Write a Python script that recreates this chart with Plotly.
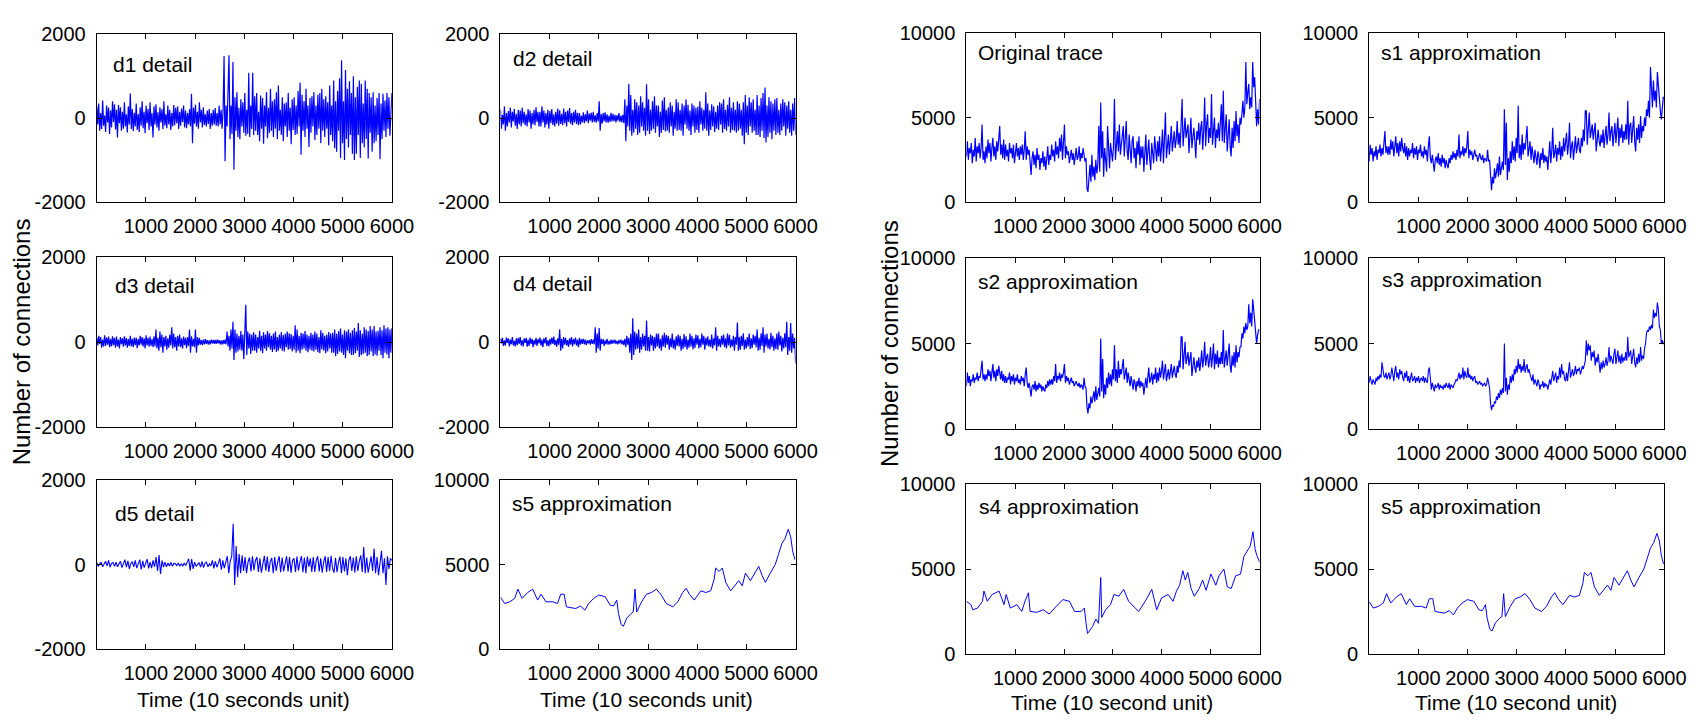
import numpy as np
import plotly.graph_objects as go
from plotly.subplots import make_subplots

W, H = 1708, 725
BLUE = "#0000ff"
FONT = "Liberation Sans, Arial, sans-serif"

# ---- wavelet details (uniformly sampled over 1..6000) ----
d1_detail = [
    280, -150, 350, -300, 120, -260, 420, -180, 60, -330, 300, -100, 250, -380, 180, -220, 400, -90, 330, -270,
    200, -460, 310, -120, 260, -300, 150, -250, 380, -200, 90, -340, 280, -150, 590, -260, 220, -310, 130, -200,
    350, -280, 100, -330, 260, -180, 400, -240, 150, -360, 300, -120, 220, -280, 380, -200, 120, -460, 280, -150,
    330, -220, 140, -300, 260, -100, 210, -260, 400, -180, 90, -240, 300, -150, 200, -280, 120, -200, 310, -170,
    250, -120, 280, -260, 150, -180, 230, -90, 300, -220, 180, -240, 120, -150, 210, -200, 580, -600, 250, -130,
    320, -200, 150, -250, 380, -100, 200, -220, 260, -160, 90, -200, 180, -140, 220, -260, 120, -180, 200, -150,
    240, -180, 120, -200, 300, -150, 200, -250, 180, 1480, -1030, 300, -200, 450, 1500, -500, 300, -380, 1340, -1230,
    500, -300, 620, -450, 250, -500, 450, -200, 380, -350, 600, -420, 200, -380, 1080, -450, 300, -260, 1080, -400,
    520, -300, 600, -400, 150, -550, 540, -250, 480, -610, 300, -200, 620, -480, 250, -350, 700, -300, 400, -450,
    450, -250, 620, -500, 780, -300, 200, -400, 500, -550, 350, -200, 380, -450, 600, -300, 250, -620, 450, -280,
    500, -400, 300, -380, 650, -200, 850, -870, 560, -300, 400, -450, 700, -250, 300, -690, 480, -350, 520, -200,
    620, -520, 300, -400, 560, -250, 600, -600, 700, -300, 450, -450, 520, -250, 380, -650, 780, -400, 300, -550,
    900, -720, 400, -800, 650, -300, 950, -950, 1380, -600, 400, -1000, 1150, -500, 700, -700, 880, -400, 600, -850,
    1000, -1000, 500, -850, 750, -400, 900, -950, 820, -600, 350, -700, 900, -500, 700, -960, 600, -350, 500, -800,
    620, -600, 300, -550, 480, -400, 600, -980, 350, -500, 580, -300, 420, -450, 600, -250, 500, -420, 350, 600,
]

d2_detail = [
    200, -250, 80, -150, 280, -300, 120, -200, 170, -100, 250, -220, 150, -80, 220, -180, 100, -260, 200, -150,
    180, -200, 250, -120, 150, -170, 90, -200, 220, -100, 180, -250, 120, -150, 200, -170, 260, -90, 150, -200,
    150, -200, 280, -100, 180, -220, 120, -150, 200, -250, 170, -120, 220, -160, 90, -200, 150, -130, 230, -180,
    190, -140, 100, -170, 230, -120, 150, -200, 180, -90, 240, -130, 120, -170, 150, -100, 200, -140, 130, -170,
    120, -150, 60, -100, 140, -120, 90, -80, 180, -120, 110, -60, 130, -100, 150, -90, 70, -110, 120, -80,
    400, -300, 100, -130, 120, -80, 140, -100, 90, -110, 60, -90, 130, -80, 100, -70, 80, -100, 70, -60,
    120, -90, 60, -100, 80, -120, 450, -550, 300, -200, 820, -300, 550, -420, 200, -350, 450, -250, 380, -400,
    300, -350, 520, -200, 380, -300, 250, -420, 810, -300, 450, -380, 200, -300, 400, -250, 520, -350, 300, -200,
    300, -450, 150, -350, 420, -280, 500, -320, 200, -300, 260, -350, 380, -200, 300, -420, 150, -250, 450, -300,
    380, -280, 200, -300, 350, -420, 300, -150, 450, -250, 320, -300, 180, -400, 350, -200, 300, -350, 250, -280,
    280, -350, 400, -150, 250, -300, 200, -250, 620, -300, 350, -420, 180, -280, 330, -200, 280, -330, 150, -250,
    300, -280, 380, -150, 350, -350, 450, -260, 200, -300, 320, -200, 500, -350, 250, -280, 380, -300, 200, -350,
    400, -300, 350, -250, 200, -420, 380, -620, 550, -350, 300, -400, 500, -200, 380, -350, 450, -300, 200, -400,
    550, -400, 300, -450, 480, -300, 600, -480, 730, -580, 300, -450, 500, -350, 400, -500, 350, -300, 450, -400,
    480, -350, 200, -400, 350, -300, 450, -200, 380, -420, 300, -250, 400, -350, 200, -420, 350, -300, 480, -400,
]

d3_detail = [
    100, -80, 150, -40, 120, -130, 60, -100, 160, -90, 110, -60, 130, -120, 80, -100, 140, -70, 100, -130,
    130, -100, 60, -150, 120, -50, 90, -110, 140, -80, 100, -130, 70, -90, 150, -100, 80, -120, 110, -70,
    110, -140, 70, -80, 150, -60, 120, -100, 90, -150, 160, -80, 100, -110, 130, -90, 70, -120, 140, -100,
    300, -150, 100, -200, 250, -120, 180, -250, 120, -100, 150, -180, 90, -130, 180, -80, 350, -150, 200, -120,
    120, -200, 150, -100, 180, -120, 90, -150, 130, -70, 100, -140, 120, -90, 300, -250, 140, -100, 80, -120,
    300, -250, 120, -80, 100, -60, 50, -70, 60, -50, 70, -40, 50, -60, 40, -50, 60, -30, 50, -40,
    50, -40, 60, -30, 50, -50, 40, -60, 50, -40, 60, -50, 250, -100, 150, -200, 300, -150, 480, -420,
    300, -250, 200, -220, 150, -180, 260, -200, 180, -400, 220, 880, -300, 250, -150, 200, -280, 180, -200, 230,
    -200, 180, -250, 120, -150, 270, -200, 150, -260, 230, -150, 180, -200, 260, -120, 210, -180, 150, -230, 200,
    -170, 250, -230, 120, -200, 180, -150, 240, -200, 170, -220, 200, -120, 250, -180, 210, -160, 190, -220, 150,
    -180, 400, -250, 300, -200, 150, -260, 220, -180, 200, -150, 260, -200, 180, -240, 150, -170, 220, -200, 180,
    -220, 250, -180, 200, -240, 120, -260, 280, -170, 220, -200, 150, -260, 180, -220, 240, -150, 200, -250, 220,
    -250, 300, -330, 200, -280, 260, -220, 320, -250, 180, -300, 280, -380, 250, -200, 300, -260, 220, -300, 280,
    -300, 330, -260, 250, -200, 450, -350, 280, -310, 200, -280, 350, -250, 300, -330, 260, -300, 380, -220, 300,
    -330, 380, -290, 250, -320, 270, -200, 350, -300, 280, -380, 400, -250, 320, -290, 350, -380, 300, -250, 330,
]

d4_detail = [
    80, -30, 100, -90, 40, -80, 110, -20, 90, -100, 60, -50, 120, -80, 30, -100, 90, -70, 100, -40,
    120, -80, 40, -100, 90, -20, 100, -110, 60, -90, 110, -40, 80, -120, 50, -60, 100, -90, 70, -30,
    110, -80, 60, -120, 90, -30, 120, -90, 40, -100, 80, -60, 110, -40, 130, -70, 50, -110, 90, -60,
    300, -200, 80, -150, 120, -60, 100, -80, 50, -110, 90, -60, 120, -100, 70, -50, 110, -80, 60, -120,
    100, -60, 70, -40, 80, -50, 60, -70, 40, -30, 50, -60, 70, -40, 60, -50, 350, -250, 200, -150,
    330, -200, 80, -40, 70, -90, 40, -50, 80, -60, 30, -50, 60, -40, 50, -30, 60, -40, 30, -50,
    50, -30, 60, -50, 40, -70, 80, -120, 150, -60, 100, -250, 200, -420, 560, -300, 250, -180, 200, -150,
    300, -250, 120, -180, 200, -100, 150, -200, 510, -200, 120, -220, 180, -80, 150, -200, 120, -150, 200, -100,
    200, -150, 80, -200, 160, -100, 220, -130, 170, -60, 150, -180, 90, -120, 200, -150, 60, -180, 140, -90,
    180, -100, 150, -200, 80, -160, 190, -120, 140, -180, 60, -130, 200, -100, 150, -170, 90, -140, 180, -60,
    160, -150, 80, -120, 200, -60, 150, -180, 100, -80, 140, -100, 60, -120, 180, -150, 90, -80, 350, -200,
    150, -100, 80, -120, 150, -60, 180, -120, 90, -150, 200, -80, 170, -130, 60, -100, 150, -200, 120, -60,
    460, -200, 120, -180, 150, -90, 210, -180, 60, -150, 120, -100, 200, -160, 90, -140, 180, -60, 150, -120,
    300, -200, 100, -180, 210, -90, 350, -250, 180, -100, 200, -150, 80, -170, 220, -120, 150, -200, 90, -160,
    200, -180, 250, -80, 150, -220, 100, -150, 210, -120, 480, -300, 120, -200, 450, -250, 200, -150, 100, -500,
]

d5_detail = [
    50, -40, 20, 60, -50, 10, 80, -30, 100, -60, 30, 50, -40, 60, -50, 20, 80, -70, 40, 120,
    -60, 90, -100, 30, 70, -50, 100, -80, 20, 120, -110, 90, -70, 40, 130, -90, 60, -80, 100, -50,
    180, -150, 230, -220, 100, -60, 60, -50, 40, -30, 50, -40, 30, 20, -20, 40, -30, 20, -30, 40,
    -20, 60, 140, -140, 130, -100, 60, -40, 20, 50, -60, 80, -70, 30, 60, -50, 20, -30, 100, -90,
    80, -60, 30, 150, -120, 100, -80, 60, 200, -200, 80, 200, 970, -480, 440, -300, 250, -200, 220, -150,
    180, -200, 60, 170, -160, 200, -130, 100, 180, -170, 150, -190, 50, 210, -140, 190, -170, 80, 160, -200,
    180, -150, 60, 200, -180, 170, -160, 40, 200, -160, 180, -190, 100, 150, -170, 190, -140, 60, 200, -180,
    170, -200, 190, -50, 150, -170, 180, -170, 100, 200, -160, 150, -190, 60, 200, -170, 180, -150, 210, -90,
    -190, 160, -180, 60, 190, -200, 180, -160, 150, -250, 100, 200, -150, 170, -190, 200, -150, 80, 220, -170,
    420, -200, 170, -190, 60, 200, -150, 380, -200, 180, -250, 100, 330, -200, 150, -480, 200, -100, 150, 100,
]

# ---- original trace and its approximations (uniformly sampled) ----
original_trace = [
    2700, 3600, 2500, 3200, 2900, 3500, 2300, 3100, 2700, 3800, 2400, 3300, 2900, 3500, 2600, 3200, 4600, 2500, 3000, 2300,
    3300, 2600, 3700, 2900, 3500, 2400, 3200, 3800, 2700, 3300, 2500, 3600, 3000, 3900, 4500, 2800, 3400, 2600, 3700, 2500,
    3400, 2700, 3100, 2400, 3500, 2900, 3200, 2600, 3400, 2300, 3000, 3500, 2700, 3200, 2500, 3300, 2800, 3400, 2500, 3100,
    4200, 2500, 3300, 2800, 3100, 2200, 1600, 2600, 3000, 2200, 2800, 2000, 3200, 2500, 2800, 1900, 2600, 2300, 3000, 2100,
    2700, 1900, 2500, 3300, 2200, 2800, 2500, 3400, 2700, 3100, 2400, 3600, 2800, 3300, 2600, 3800, 3000, 4000, 2500, 3500,
    4600, 2600, 3300, 2800, 3000, 2300, 2800, 3100, 2500, 2900, 2200, 2800, 3200, 2500, 2700, 3300, 2400, 2900, 2600, 3200,
    2800, 2400, 2600, 800, 600, 1600, 2200, 1200, 2800, 1500, 2100, 1300, 2500, 1700, 2200, 4500, 1800, 5900, 2600, 4200,
    1500, 3200, 2300, 1800, 4500, 2600, 2000, 3500, 2800, 2400, 3300, 6100, 2500, 3800, 4200, 3000, 4600, 2800, 3500, 4000,
    4500, 2700, 3600, 4800, 3000, 2500, 4000, 3200, 2300, 3600, 3900, 2600, 3200, 2000, 3600, 2800, 3900, 2200, 3300, 2600,
    3300, 1800, 2800, 4000, 2200, 3000, 3700, 2500, 1900, 3500, 2800, 2300, 3900, 3100, 2400, 3600, 2700, 3900, 2400, 3200,
    4300, 2300, 3500, 5300, 2600, 3300, 4000, 2800, 3600, 4500, 3000, 3900, 4200, 3200, 3700, 4800, 3400, 4100, 3200, 4600,
    6100, 3300, 4500, 5000, 3800, 4300, 4600, 2900, 4100, 5000, 3200, 4000, 4400, 3600, 2600, 4200, 3700, 4700, 3400, 4400,
    4800, 3100, 4200, 6200, 3300, 4600, 5200, 3500, 4400, 3800, 6400, 3400, 4500, 5000, 3200, 4300, 3800, 4700, 3600, 4900,
    5800, 3600, 6600, 3500, 4600, 5200, 3000, 4300, 4900, 3300, 2700, 4400, 3200, 4800, 3600, 5400, 3900, 4600, 3500, 5000,
    4600, 5200, 6000, 5000, 5600, 8300, 5800, 6500, 7000, 5500, 6200, 5600, 8300, 6800, 7400, 6000, 4500, 5500, 4600, 6100,
]

s1_approx = [
    2400, 3400, 2800, 3200, 2400, 3000, 2700, 3300, 2500, 3100, 2900, 3400, 2700, 3200, 2800, 3500, 4200, 2900, 3300, 2800,
    3300, 2800, 3700, 3100, 3600, 2700, 3300, 3900, 2900, 3500, 2700, 3600, 3000, 3800, 3200, 2900, 3500, 2700, 3300, 2500,
    3200, 2700, 3100, 2900, 3500, 2600, 3200, 2800, 3300, 2500, 3100, 2900, 3400, 2700, 3000, 2600, 3300, 2800, 3100, 2400,
    3300, 3900, 2600, 2300, 2800, 2200, 1800, 2500, 2700, 2300, 2900, 2200, 2600, 2100, 2800, 2300, 2600, 2000, 2500, 2200,
    2000, 2600, 2300, 2800, 2500, 3000, 2600, 2900, 2500, 3100, 2700, 4000, 2600, 3000, 2800, 3300, 2700, 3200, 2900, 3300,
    4200, 2600, 3100, 2800, 3000, 2500, 2900, 3100, 2700, 2800, 2400, 2700, 2900, 2600, 2500, 2800, 2300, 2600, 2500, 2400,
    3100, 2400, 2500, 1200, 700, 1500, 1100, 2000, 1400, 1800, 2300, 1500, 2700, 1600, 2000, 2400, 1900, 5500, 2200, 4700,
    1300, 2600, 1800, 3000, 2300, 3600, 2500, 3300, 2400, 3800, 2900, 5700, 2600, 3400, 2500, 4000, 2800, 3500, 3100, 4200,
    4500, 2700, 3300, 3600, 2500, 3300, 2800, 2300, 3100, 2600, 2200, 3000, 2700, 2000, 2900, 2500, 3200, 2300, 2800, 2400,
    2700, 1900, 2600, 3600, 2300, 3000, 4400, 2600, 2900, 3400, 2400, 3200, 2800, 3600, 2500, 3300, 2700, 3800, 3000, 3600,
    4100, 2800, 3400, 4700, 2600, 3300, 3600, 2500, 3200, 3900, 2900, 3500, 3800, 3100, 2900, 3800, 3300, 4300, 3600, 5400,
    5400, 3400, 4600, 5300, 3800, 4300, 4600, 3700, 4200, 4700, 3000, 3900, 4300, 3600, 3300, 4000, 3500, 4300, 3200, 3900,
    4500, 3400, 4000, 5300, 3600, 4200, 4500, 3300, 4000, 4700, 3500, 4200, 5000, 3300, 4400, 3800, 4600, 3500, 4200, 3700,
    4600, 3700, 6000, 3400, 4500, 4700, 3500, 4300, 5100, 3600, 3000, 4400, 3700, 4600, 3500, 5100, 3800, 4500, 4200, 5000,
    4500, 5500, 5100, 6000, 5000, 8000, 6300, 5600, 7200, 6000, 6600, 5600, 7700, 6800, 6000, 5400, 4900, 5500, 6200, 6200,
]

s2_approx = [
    2500, 3300, 2700, 3100, 2500, 2900, 2800, 3200, 2700, 3000, 2900, 3300, 2800, 3100, 3000, 3400, 4000, 2900, 3200, 2800,
    3200, 2900, 3500, 3100, 3400, 2800, 3200, 3800, 3000, 3400, 2800, 3500, 3100, 3700, 3300, 2900, 3400, 2800, 3200, 2700,
    3100, 2700, 3000, 2900, 3300, 2600, 3100, 2800, 3200, 2600, 3000, 2800, 3200, 2700, 2900, 2600, 3100, 2800, 3000, 2500,
    3200, 3600, 2700, 2400, 2700, 2300, 1900, 2500, 2600, 2300, 2800, 2200, 2600, 2300, 2700, 2400, 2600, 2200, 2500, 2300,
    2200, 2600, 2400, 2800, 2500, 2900, 2600, 2900, 2600, 3100, 2800, 3800, 2700, 3100, 2900, 3300, 2800, 3200, 3000, 3300,
    3800, 2700, 3100, 2800, 3000, 2600, 2900, 3000, 2700, 2800, 2500, 2700, 2800, 2600, 2500, 2700, 2400, 2600, 2500, 2300,
    3000, 2500, 2400, 1300, 900, 1500, 1200, 1900, 1500, 1800, 2200, 1600, 2500, 1700, 2000, 2400, 1900, 5300, 2200, 4100,
    1800, 2600, 2000, 3000, 2400, 3300, 2600, 3200, 2500, 3500, 2900, 4900, 2800, 3500, 2700, 4000, 3000, 3500, 3200, 3900,
    4100, 2900, 3400, 3600, 2700, 3300, 2900, 2500, 3100, 2700, 2300, 2900, 2700, 2200, 2800, 2500, 3000, 2400, 2800, 2500,
    2700, 2000, 2600, 3000, 2400, 3000, 3600, 2700, 2900, 3300, 2600, 3200, 2900, 3600, 2700, 3300, 2800, 3600, 3000, 3400,
    4000, 2900, 3400, 3800, 2800, 3300, 3500, 2900, 3300, 3800, 3000, 3500, 3700, 3200, 3000, 3700, 3300, 4000, 3600, 5400,
    5400, 3500, 4600, 5100, 3800, 4300, 4500, 3700, 4100, 4500, 3100, 3900, 4200, 3600, 3300, 4000, 3600, 4200, 3400, 3900,
    4600, 3600, 4100, 5100, 3700, 4200, 4400, 3600, 4000, 4800, 3600, 4200, 5000, 3500, 4400, 3800, 4600, 3600, 4200, 3800,
    4500, 3800, 5800, 3600, 4400, 4600, 3700, 4300, 5000, 3700, 3300, 4300, 3700, 4500, 3600, 4900, 3900, 4500, 4200, 4800,
    4800, 5600, 5300, 6000, 5600, 6200, 5800, 6000, 7300, 6200, 6800, 6000, 7600, 7000, 6300, 5800, 5000, 5500, 5800, 5800,
]

s3_approx = [
    2700, 3100, 2800, 2600, 2900, 2700, 2600, 3000, 2800, 3100, 2900, 3200, 3000, 3900, 3300, 3100, 3000, 3300, 2900, 3200,
    3300, 2900, 3100, 3600, 3200, 2800, 3400, 3700, 3000, 3300, 2900, 3500, 3200, 3400, 3000, 2800, 3300, 3000, 3400, 2800,
    3100, 2700, 3000, 3300, 2800, 2900, 3100, 2700, 3000, 2800, 3100, 2700, 2900, 3000, 2800, 3100, 2700, 3000, 2800, 2700,
    3400, 3600, 3000, 2300, 2700, 2500, 2200, 2600, 2400, 2500, 2700, 2300, 2600, 2400, 2500, 2300, 2600, 2400, 2700, 2500,
    2400, 2700, 2300, 2600, 2500, 2400, 2600, 2700, 2900, 2800, 3000, 3300, 2900, 3200, 3000, 3600, 2900, 3400, 3100, 3000,
    3600, 3000, 3200, 2900, 3100, 2800, 3000, 3100, 2700, 2800, 2600, 2700, 2800, 2600, 2700, 2500, 2600, 2700, 2500, 2600,
    3000, 2700, 2400, 1500, 1100, 1400, 1300, 1600, 1500, 1900, 1700, 2100, 1800, 2300, 2000, 2400, 2100, 5000, 2200, 3000,
    2000, 2600, 2300, 3100, 2700, 3200, 2800, 3500, 3200, 3700, 3300, 4100, 3500, 3800, 3300, 3700, 3400, 4100, 3300, 3600,
    3800, 3300, 3500, 3200, 3000, 2800, 3200, 2600, 2900, 2700, 2500, 2900, 2700, 2300, 2600, 2500, 2800, 2400, 2700, 2500,
    2600, 2300, 2600, 2900, 2600, 3100, 3400, 2800, 3000, 3300, 2700, 3100, 2900, 3600, 3000, 3800, 3200, 3400, 2900, 2800,
    3300, 2800, 3400, 3900, 3000, 3300, 3500, 3100, 3300, 3700, 3200, 3500, 3400, 3600, 3200, 3400, 3700, 3500, 3900, 4000,
    5200, 4300, 5000, 4600, 4900, 4000, 4500, 4200, 4600, 3700, 4200, 3900, 4400, 3600, 3300, 3900, 3500, 4000, 3600, 3800,
    4200, 3700, 4000, 4800, 3900, 4300, 4100, 3800, 4400, 4700, 3800, 4200, 4600, 3900, 4300, 3800, 4400, 3900, 4200, 4000,
    4500, 4000, 5400, 4200, 4400, 4600, 3800, 4300, 4700, 3900, 3600, 4200, 3800, 4400, 3900, 4800, 4000, 4300, 4100, 4700,
    5000, 5600, 5800, 5700, 6000, 5800, 6100, 5900, 7000, 6500, 6800, 6600, 7400, 7000, 6000, 5800, 5000, 5200, 5000, 5000,
]

# ---- smoother approximations, read at their own time points ----
time_s4 = [
    0, 95, 130, 230, 330, 360, 430, 530, 670, 770,
    815, 900, 1035, 1135, 1200, 1270, 1305, 1440, 1575, 1695,
    1840, 1975, 2110, 2215, 2350, 2415, 2450, 2480, 2580, 2650,
    2705, 2750, 2770, 2850, 2950, 3020, 3120, 3220, 3320, 3420,
    3525, 3660, 3795, 3895, 3995, 4130, 4230, 4300, 4365, 4430,
    4480, 4530, 4600, 4665, 4765, 4835, 4905, 5005, 5105, 5170,
    5270, 5340, 5420, 5510, 5610, 5680, 5745, 5810, 5865, 5910,
    5945, 6000,
]
s4_approx = [
    3100, 2900, 2600, 2700, 3100, 3700, 3100, 3500, 3700, 2900,
    3500, 2700, 2900, 2500, 3100, 3600, 2500, 2450, 2600, 2350,
    2800, 3200, 3100, 2500, 2500, 2700, 1800, 1200, 1600, 2050,
    1800, 4500, 2150, 2600, 2900, 3500, 3400, 3800, 3100, 2800,
    2500, 3100, 3800, 2600, 3300, 3500, 3100, 3700, 4050, 4900,
    4350, 4800, 3850, 3400, 3850, 4350, 3750, 4700, 4050, 4600,
    5000, 3950, 3850, 4600, 4700, 5750, 6050, 6350, 7200, 6150,
    5800, 5400,
]

time_s5 = [
    0, 87, 190, 290, 355, 440, 555, 655, 757, 825,
    925, 1060, 1160, 1225, 1295, 1340, 1530, 1630, 1715, 1795,
    1895, 1997, 2130, 2230, 2300, 2365, 2400, 2455, 2500, 2567,
    2655, 2700, 2735, 2770, 2870, 2970, 3070, 3170, 3270, 3370,
    3505, 3605, 3705, 3775, 3840, 3940, 4075, 4175, 4275, 4345,
    4375, 4445, 4510, 4580, 4680, 4780, 4845, 4915, 4980, 5080,
    5150, 5250, 5320, 5385, 5485, 5585, 5650, 5720, 5785, 5850,
    5900, 5940, 5985,
]
s5_approx = [
    3080, 2700, 2800, 3000, 3550, 3000, 3350, 3550, 2900, 3250,
    2800, 2800, 2700, 3250, 3250, 2500, 2400, 2550, 2300, 2700,
    3000, 3200, 3100, 2600, 2550, 2900, 2100, 1450, 1350, 1830,
    2100, 2200, 3550, 2200, 2800, 3250, 3350, 3550, 3200, 2700,
    2500, 2800, 3350, 3600, 3250, 2900, 3450, 3350, 3450, 4150,
    4800, 4600, 4800, 3950, 3450, 3850, 4050, 3750, 4500, 4050,
    4400, 4900, 4350, 3950, 4500, 5000, 5600, 6250, 6550, 7100,
    6650, 5800, 5300,
]

# ---- axis ticks ----
time_ticks = [1000, 2000, 3000, 4000, 5000, 6000]
time_tick_text = ["1000", "2000", "3000", "4000", "5000", "6000"]
detail_ticks = [-2000, 0, 2000]
detail_tick_text = ["-2000", "0", "2000"]
approx_ticks = [0, 5000, 10000]
approx_tick_text = ["0", "5000", "10000"]


def uniform_time(values):
    return np.linspace(1, 6000, len(values))


# panel pixel boxes: columns (left, right); rows (top, bottom)
COLS = {1: (98, 397), 2: (507, 806), 3: (979, 1276), 4: (1387, 1686)}
ROWS_LEFT = {1: (24, 197), 2: (254, 429), 3: (484, 658)}
ROWS_RIGHT = {1: (23, 197), 2: (255, 431), 3: (488, 663)}

# (row, col, label, x, y, kind, label offset from top-left corner, line width)
panels = [
    (1, 1, "d1 detail", uniform_time(d1_detail), d1_detail, "detail", (14, 31), 1.2),
    (1, 2, "d2 detail", uniform_time(d2_detail), d2_detail, "detail", (11, 25), 1.2),
    (2, 1, "d3 detail", uniform_time(d3_detail), d3_detail, "detail", (16, 29), 1.2),
    (2, 2, "d4 detail", uniform_time(d4_detail), d4_detail, "detail", (11, 27), 1.2),
    (3, 1, "d5 detail", uniform_time(d5_detail), d5_detail, "detail", (16, 34), 1.1),
    (3, 2, "s5 approximation", time_s5, s5_approx, "approx", (10, 24), 1.0),
    (1, 3, "Original trace", uniform_time(original_trace), original_trace, "approx", (10, 20), 1.2),
    (1, 4, "s1 approximation", uniform_time(s1_approx), s1_approx, "approx", (10, 20), 1.2),
    (2, 3, "s2 approximation", uniform_time(s2_approx), s2_approx, "approx", (10, 24), 1.2),
    (2, 4, "s3 approximation", uniform_time(s3_approx), s3_approx, "approx", (11, 22), 1.1),
    (3, 3, "s4 approximation", time_s4, s4_approx, "approx", (11, 23), 1.0),
    (3, 4, "s5 approximation", time_s5, s5_approx, "approx", (10, 23), 1.0),
]

fig = make_subplots(rows=3, cols=4)

axis_common = dict(
    showline=True, linecolor="black", linewidth=1, mirror="ticks",
    ticks="inside", ticklen=5, tickwidth=1, tickcolor="black",
    showgrid=False, zeroline=False,
    tickfont=dict(family=FONT, size=20, color="black"),
)

annotations = []
for row, col, label, xs, ys, kind, (dx, dy), lw in panels:
    fig.add_trace(
        go.Scatter(x=list(xs), y=ys, mode="lines",
                   line=dict(color=BLUE, width=lw), showlegend=False,
                   hoverinfo="skip"),
        row=row, col=col,
    )
    n = (row - 1) * 4 + col
    sfx = "" if n == 1 else str(n)
    left, right = COLS[col]
    top, bottom = (ROWS_LEFT if col <= 2 else ROWS_RIGHT)[row]
    fig.layout["xaxis" + sfx].update(
        domain=[left / W, right / W], range=[1, 6000],
        tickvals=time_ticks, ticktext=time_tick_text,
        ticklabelstandoff=6, **axis_common,
    )
    if kind == "detail":
        yr, yt, ytt = [-2000, 2000], detail_ticks, detail_tick_text
    else:
        yr, yt, ytt = [0, 10000], approx_ticks, approx_tick_text
    fig.layout["yaxis" + sfx].update(
        domain=[1 - bottom / H, 1 - top / H], range=yr,
        tickvals=yt, ticktext=ytt, ticklabelstandoff=6, **axis_common,
    )
    annotations.append(dict(
        text=label, x=(left + dx) / W, y=1 - (top + dy) / H,
        xref="paper", yref="paper", xanchor="left", yanchor="middle",
        showarrow=False, font=dict(family=FONT, size=21, color="black"),
    ))

# axis titles
for cx, cy, txt in [
    (247, 710, "Time (10 seconds unit)"),
    (655, 710, "Time (10 seconds unit)"),
    (1127, 713, "Time (10 second unit)"),
    (1536, 713, "Time (10 second unit)"),
]:
    annotations.append(dict(
        text=txt, x=cx / W, y=1 - cy / H, xref="paper", yref="paper",
        xanchor="center", yanchor="middle", showarrow=False,
        font=dict(family=FONT, size=21, color="black"),
    ))
for cx, cy in [(22, 341), (901, 343)]:
    annotations.append(dict(
        text="Number of connections", x=cx / W, y=1 - cy / H,
        xref="paper", yref="paper", xanchor="center", yanchor="middle",
        textangle=-90, showarrow=False,
        font=dict(family=FONT, size=24, color="black"),
    ))

fig.update_layout(
    width=W, height=H, margin=dict(l=0, r=0, t=0, b=0),
    paper_bgcolor="white", plot_bgcolor="white",
    annotations=annotations, showlegend=False,
)

fig.write_html("out.html")
